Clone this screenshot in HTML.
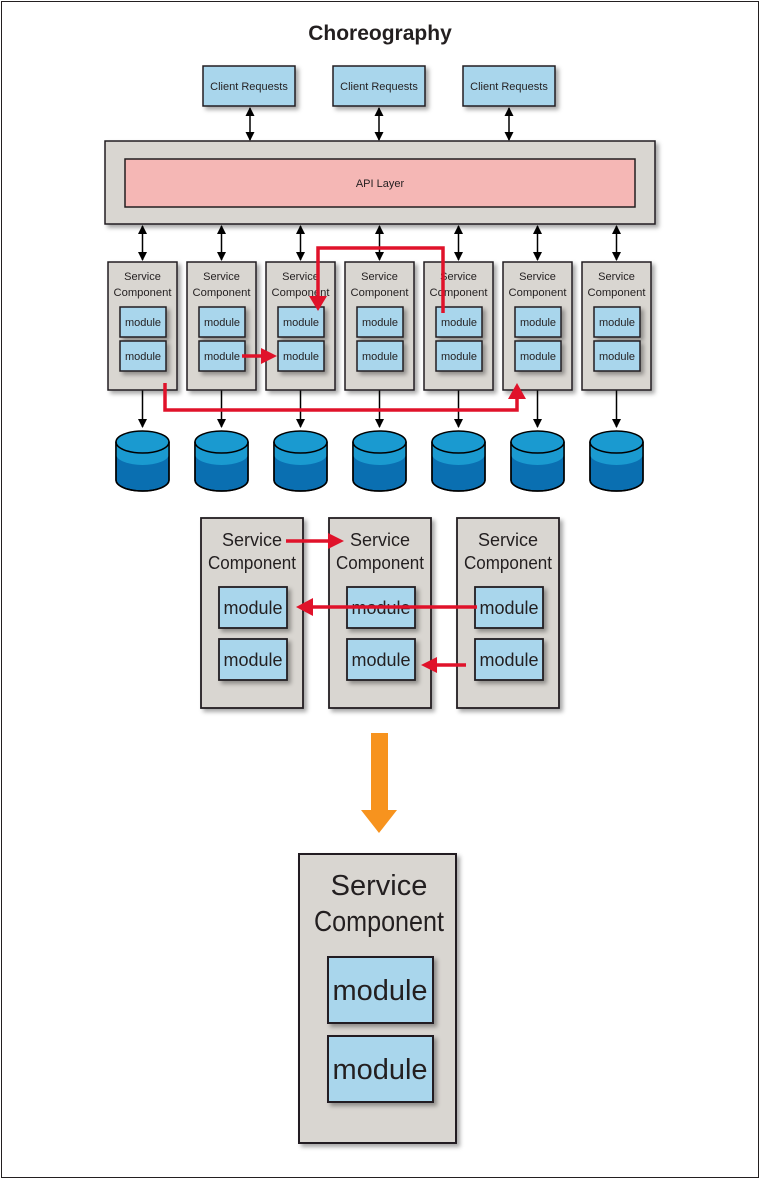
<!DOCTYPE html>
<html><head><meta charset="utf-8"><style>
html,body{margin:0;padding:0;background:#fff;}
svg text{font-family:"Liberation Sans",sans-serif;fill:#231f20;}
</style></head><body>
<svg width="760" height="1179" viewBox="0 0 760 1179" xmlns="http://www.w3.org/2000/svg">
<defs>
<filter id="sh" x="-20%" y="-20%" width="150%" height="150%"><feDropShadow dx="3" dy="3" stdDeviation="2" flood-color="#000" flood-opacity="0.35"/></filter>
<marker id="ab" markerWidth="9" markerHeight="9" refX="8" refY="4.5" orient="auto-start-reverse" markerUnits="userSpaceOnUse"><path d="M0,0 L9,4.5 L0,9 z" fill="#000"/></marker>
<g id="cyl"><path d="M0,12 L0,50 A26.5,11 0 0 0 53,50 L53,12 Z" fill="#0a6fb1" stroke="#000" stroke-width="1.5"/><path d="M0,12 L0,24 A26.5,11 0 0 0 53,24 L53,12 Z" fill="#1a9ad0"/><ellipse cx="26.5" cy="12" rx="26.5" ry="11" fill="#1a9ad0" stroke="#000" stroke-width="1.5"/><path d="M0,12 L0,50 A26.5,11 0 0 0 53,50 L53,12" fill="none" stroke="#000" stroke-width="1.5"/></g>
<g id="sc">
<rect x="0" y="0" width="69" height="128" fill="#d9d6d1" stroke="#231f20" stroke-width="1.5" filter="url(#sh)"/>
<text x="34.5" y="18" font-size="11" text-anchor="middle">Service</text>
<text x="34.5" y="34" font-size="11" text-anchor="middle" textLength="58" lengthAdjust="spacingAndGlyphs">Component</text>
<rect x="12" y="45" width="46" height="30" fill="#a9d6ec" stroke="#231f20" stroke-width="1.5" filter="url(#sh)"/>
<text x="35" y="64" font-size="11" text-anchor="middle">module</text>
<rect x="12" y="79" width="46" height="30" fill="#a9d6ec" stroke="#231f20" stroke-width="1.5" filter="url(#sh)"/>
<text x="35" y="98" font-size="11" text-anchor="middle">module</text>
</g>
<g id="scm">
<rect x="0" y="0" width="102" height="190" fill="#d9d6d1" stroke="#231f20" stroke-width="1.8" filter="url(#sh)"/>
<text x="51" y="28" font-size="18" text-anchor="middle">Service</text>
<text x="51" y="51" font-size="18" text-anchor="middle" textLength="88" lengthAdjust="spacingAndGlyphs">Component</text>
<rect x="18" y="69" width="68" height="41" fill="#a9d6ec" stroke="#231f20" stroke-width="1.8" filter="url(#sh)"/>
<text x="52" y="96" font-size="18" text-anchor="middle">module</text>
<rect x="18" y="121" width="68" height="41" fill="#a9d6ec" stroke="#231f20" stroke-width="1.8" filter="url(#sh)"/>
<text x="52" y="148" font-size="18" text-anchor="middle">module</text>
</g>
</defs>
<rect x="1.5" y="1.5" width="757" height="1176" fill="#fff" stroke="#231f20" stroke-width="1"/>
<text x="380" y="40" font-size="21" font-weight="bold" text-anchor="middle">Choreography</text>

<rect x="203" y="66" width="92" height="40" fill="#a9d6ec" stroke="#231f20" stroke-width="1.5" filter="url(#sh)"/>
<text x="249" y="90" font-size="11" text-anchor="middle">Client Requests</text>
<rect x="333" y="66" width="92" height="40" fill="#a9d6ec" stroke="#231f20" stroke-width="1.5" filter="url(#sh)"/>
<text x="379" y="90" font-size="11" text-anchor="middle">Client Requests</text>
<rect x="463" y="66" width="92" height="40" fill="#a9d6ec" stroke="#231f20" stroke-width="1.5" filter="url(#sh)"/>
<text x="509" y="90" font-size="11" text-anchor="middle">Client Requests</text>
<g stroke="#000" stroke-width="1.5" marker-start="url(#ab)" marker-end="url(#ab)">
<line x1="250" y1="108" x2="250" y2="140"/><line x1="379" y1="108" x2="379" y2="140"/><line x1="509" y1="108" x2="509" y2="140"/>
</g>

<rect x="105" y="141" width="550" height="83" fill="#d9d6d1" stroke="#231f20" stroke-width="1.5" filter="url(#sh)"/>
<rect x="125" y="159" width="510" height="48" fill="#f5b7b5" stroke="#231f20" stroke-width="1.5"/>
<text x="380" y="187" font-size="11" text-anchor="middle">API Layer</text>

<g stroke="#000" stroke-width="1.5" marker-start="url(#ab)" marker-end="url(#ab)">
<line x1="142.5" y1="226" x2="142.5" y2="260"/><line x1="221.5" y1="226" x2="221.5" y2="260"/><line x1="300.5" y1="226" x2="300.5" y2="260"/><line x1="379.5" y1="226" x2="379.5" y2="260"/><line x1="458.5" y1="226" x2="458.5" y2="260"/><line x1="537.5" y1="226" x2="537.5" y2="260"/><line x1="616.5" y1="226" x2="616.5" y2="260"/>
</g>
<g stroke="#000" stroke-width="1.5" marker-end="url(#ab)">
<line x1="142.5" y1="390" x2="142.5" y2="427"/><line x1="221.5" y1="390" x2="221.5" y2="427"/><line x1="300.5" y1="390" x2="300.5" y2="427"/><line x1="379.5" y1="390" x2="379.5" y2="427"/><line x1="458.5" y1="390" x2="458.5" y2="427"/><line x1="537.5" y1="390" x2="537.5" y2="427"/><line x1="616.5" y1="390" x2="616.5" y2="427"/>
</g>

<use href="#sc" x="108" y="262"/><use href="#sc" x="187" y="262"/><use href="#sc" x="266" y="262"/><use href="#sc" x="345" y="262"/><use href="#sc" x="424" y="262"/><use href="#sc" x="503" y="262"/><use href="#sc" x="582" y="262"/>

<use href="#cyl" x="116" y="430"/><use href="#cyl" x="195" y="430"/><use href="#cyl" x="274" y="430"/><use href="#cyl" x="353" y="430"/><use href="#cyl" x="432" y="430"/><use href="#cyl" x="511" y="430"/><use href="#cyl" x="590" y="430"/>

<g fill="none" stroke="#e0122a" stroke-width="3.5">
<polyline points="165,383 165,410 517,410 517,398"/>
<polyline points="443,313 443,248 318,248 318,297"/>
<line x1="242" y1="356" x2="262" y2="356"/>
</g>
<g fill="#e0122a"><path d="M508,399 L526,399 L517,383 Z"/><path d="M309,296 L327,296 L318,311 Z"/><path d="M261,348 L261,364 L277,356 Z"/></g>

<use href="#scm" x="201" y="518"/><use href="#scm" x="329" y="518"/><use href="#scm" x="457" y="518"/>
<g fill="none" stroke="#e0122a" stroke-width="3.5">
<line x1="286" y1="541" x2="330" y2="541"/>
<line x1="477" y1="607" x2="312" y2="607"/>
<line x1="466" y1="665" x2="436" y2="665"/>
</g>
<g fill="#e0122a"><path d="M328,533 L328,549 L344,541 Z"/><path d="M313,598 L313,616 L296,607 Z"/><path d="M437,657 L437,673 L421,665 Z"/></g>

<rect x="371" y="733" width="17" height="78" fill="#f7931e"/>
<path d="M361,810 L397,810 L379,833 Z" fill="#f7931e"/>

<rect x="299" y="854" width="157" height="289" fill="#d9d6d1" stroke="#231f20" stroke-width="2" filter="url(#sh)"/>
<text x="379" y="895" font-size="29" text-anchor="middle">Service</text>
<text x="379" y="931" font-size="29" text-anchor="middle" textLength="130" lengthAdjust="spacingAndGlyphs">Component</text>
<rect x="328" y="957" width="105" height="66" fill="#a9d6ec" stroke="#231f20" stroke-width="2" filter="url(#sh)"/>
<text x="380" y="1000" font-size="29" text-anchor="middle">module</text>
<rect x="328" y="1036" width="105" height="66" fill="#a9d6ec" stroke="#231f20" stroke-width="2" filter="url(#sh)"/>
<text x="380" y="1079" font-size="29" text-anchor="middle">module</text>
</svg>
</body></html>
